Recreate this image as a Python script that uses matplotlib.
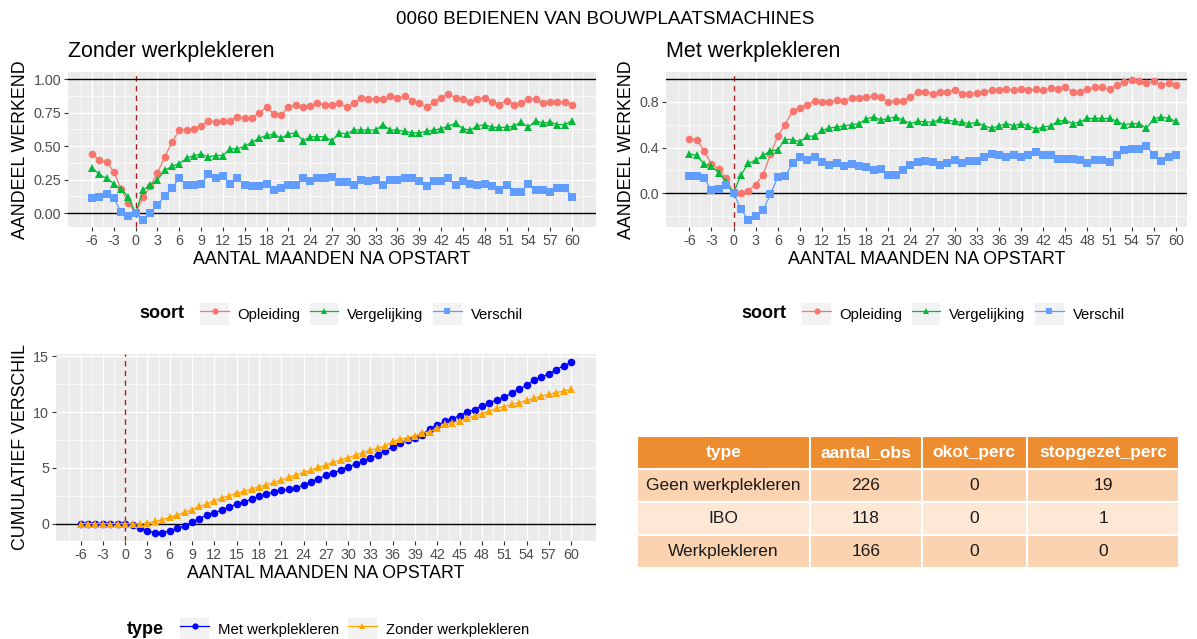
import numpy as np
import matplotlib
matplotlib.use('Agg')
import matplotlib.pyplot as plt
from matplotlib.patches import Rectangle
from matplotlib.lines import Line2D
from matplotlib.legend_handler import HandlerTuple

plt.rcParams['font.family'] = ['Liberation Sans', 'DejaVu Sans']
plt.rcParams['axes.unicode_minus'] = False

# maanden na opstart (-6 .. 60)
maanden = list(range(-6, 61))

# Zonder werkplekleren
opleiding_zonder = [0.44, 0.40, 0.38, 0.31, 0.18, 0.08, 0.00,
                    0.12, 0.20, 0.30, 0.42, 0.53, 0.62, 0.62, 0.63, 0.65, 0.69, 0.68,
                    0.69, 0.69, 0.72, 0.71, 0.71, 0.75, 0.79, 0.74, 0.73, 0.79, 0.81,
                    0.79, 0.80, 0.82, 0.81, 0.81, 0.82, 0.79, 0.82, 0.86, 0.85, 0.85,
                    0.85, 0.87, 0.86, 0.87, 0.84, 0.82, 0.79, 0.83, 0.86, 0.89, 0.86,
                    0.85, 0.83, 0.85, 0.86, 0.83, 0.81, 0.84, 0.81, 0.82, 0.85, 0.85,
                    0.82, 0.83, 0.83, 0.83, 0.81]
vergelijking_zonder = [0.34, 0.29, 0.26, 0.22, 0.18, 0.12, 0.00,
                       0.17, 0.21, 0.25, 0.32, 0.35, 0.37, 0.41, 0.43, 0.44, 0.42, 0.43,
                       0.43, 0.48, 0.48, 0.50, 0.53, 0.56, 0.58, 0.59, 0.56, 0.59, 0.60,
                       0.54, 0.57, 0.57, 0.57, 0.54, 0.60, 0.59, 0.62, 0.62, 0.62, 0.62,
                       0.66, 0.62, 0.62, 0.61, 0.60, 0.60, 0.61, 0.62, 0.63, 0.65, 0.67,
                       0.63, 0.62, 0.65, 0.66, 0.64, 0.64, 0.64, 0.65, 0.68, 0.64, 0.69,
                       0.67, 0.68, 0.66, 0.66, 0.69]
verschil_zonder = [0.11, 0.12, 0.14, 0.11, 0.01, -0.02, 0.00,
                   -0.05, 0.00, 0.06, 0.13, 0.19, 0.26, 0.21, 0.21, 0.22, 0.29, 0.26,
                   0.28, 0.22, 0.26, 0.21, 0.20, 0.20, 0.22, 0.17, 0.19, 0.21, 0.21,
                   0.26, 0.24, 0.26, 0.26, 0.27, 0.23, 0.23, 0.21, 0.25, 0.24, 0.25,
                   0.21, 0.25, 0.25, 0.26, 0.26, 0.24, 0.20, 0.24, 0.24, 0.26, 0.21,
                   0.24, 0.22, 0.21, 0.22, 0.20, 0.17, 0.21, 0.16, 0.16, 0.22, 0.17,
                   0.17, 0.16, 0.19, 0.19, 0.12]

# Met werkplekleren
opleiding_met = [0.475, 0.47, 0.37, 0.255, 0.21, 0.13, 0.00,
                 0.00, 0.02, 0.075, 0.16, 0.34, 0.50, 0.60, 0.72, 0.75, 0.77, 0.81,
                 0.80, 0.80, 0.82, 0.81, 0.83, 0.83, 0.84, 0.85, 0.84, 0.80, 0.81,
                 0.81, 0.84, 0.89, 0.89, 0.87, 0.89, 0.89, 0.90, 0.87, 0.87, 0.88,
                 0.89, 0.90, 0.90, 0.91, 0.90, 0.91, 0.90, 0.91, 0.90, 0.92, 0.915,
                 0.93, 0.89, 0.89, 0.91, 0.93, 0.93, 0.91, 0.95, 0.97, 0.99, 0.98,
                 0.965, 0.98, 0.945, 0.965, 0.95]
vergelijking_met = [0.345, 0.33, 0.255, 0.235, 0.18, 0.10, 0.00,
                    0.16, 0.26, 0.29, 0.33, 0.37, 0.38, 0.47, 0.47, 0.45, 0.50, 0.50,
                    0.55, 0.57, 0.58, 0.59, 0.60, 0.61, 0.65, 0.67, 0.64, 0.655, 0.67,
                    0.64, 0.61, 0.63, 0.625, 0.62, 0.65, 0.64, 0.63, 0.62, 0.61, 0.62,
                    0.59, 0.57, 0.59, 0.61, 0.59, 0.61, 0.59, 0.56, 0.58, 0.59, 0.63,
                    0.64, 0.61, 0.625, 0.655, 0.655, 0.655, 0.655, 0.63, 0.60, 0.61,
                    0.61, 0.57, 0.65, 0.67, 0.655, 0.63]
verschil_met = [0.15, 0.15, 0.13, 0.03, 0.04, 0.07, 0.00,
                -0.14, -0.235, -0.20, -0.15, -0.01, 0.14, 0.15, 0.26, 0.32, 0.29, 0.32,
                0.27, 0.25, 0.26, 0.24, 0.255, 0.24, 0.225, 0.20, 0.21, 0.155, 0.155,
                0.20, 0.25, 0.27, 0.28, 0.27, 0.25, 0.26, 0.29, 0.26, 0.28, 0.28,
                0.32, 0.345, 0.335, 0.315, 0.33, 0.315, 0.33, 0.36, 0.335, 0.335, 0.30,
                0.30, 0.30, 0.29, 0.26, 0.29, 0.29, 0.27, 0.335, 0.38, 0.39, 0.39,
                0.41, 0.335, 0.28, 0.315, 0.335]

# cumulatief verschil
cum_met = [0, 0, 0, 0, 0, 0, 0,
           -0.12, -0.36, -0.66, -0.80, -0.80, -0.66, -0.42, -0.21, 0.15, 0.45, 0.78,
           0.98, 1.19, 1.52, 1.73, 1.97, 2.18, 2.48, 2.62, 2.86, 2.98, 3.07, 3.22,
           3.46, 3.76, 4.03, 4.32, 4.56, 4.80, 5.10, 5.31, 5.61, 5.85, 6.20, 6.56,
           6.86, 7.19, 7.49, 7.69, 7.99, 8.53, 8.83, 9.19, 9.39, 9.69, 10.02, 10.23,
           10.59, 10.83, 11.12, 11.33, 11.72, 12.08, 12.41, 12.85, 13.15, 13.45,
           13.81, 14.17, 14.46]
cum_zonder = [0, 0, 0, 0, 0, 0, 0,
              -0.02, -0.03, 0.06, 0.20, 0.36, 0.57, 0.77, 1.01, 1.25, 1.55, 1.76,
              2.06, 2.30, 2.50, 2.74, 2.89, 3.10, 3.31, 3.49, 3.70, 3.91, 4.14, 4.38,
              4.59, 4.80, 5.04, 5.28, 5.49, 5.73, 5.93, 6.14, 6.38, 6.59, 6.77, 6.98,
              7.37, 7.57, 7.72, 7.87, 8.11, 8.26, 8.56, 8.92, 9.07, 9.21, 9.45, 9.66,
              9.87, 10.11, 10.35, 10.50, 10.71, 10.86, 11.06, 11.24, 11.45, 11.60,
              11.75, 11.90, 12.05]

# tabel
tabel_kolommen = ['type', 'aantal_obs', 'okot_perc', 'stopgezet_perc']
tabel_type = ['Geen werkplekleren', 'IBO', 'Werkplekleren']
tabel_aantal = [226, 118, 166]
tabel_okot = [0, 0, 0]
tabel_stop = [19, 1, 0]

soort_labels = ['Opleiding', 'Vergelijking', 'Verschil']
soort_kleuren = ['#F8766D', '#00BA38', '#619CFF']
soort_markers = ['o', '^', 's']
type_labels = ['Met werkplekleren', 'Zonder werkplekleren']
type_kleuren = ['#0000FF', '#FFA500']
type_markers = ['o', '^']
marker_maat = {'o': 5.5, '^': 6.0, 's': 5.8}

W, H = 1197, 639
fig = plt.figure(figsize=(W / 100, H / 100), dpi=100)


def style_axes(ax, xlim, ylim, yticks, ylabels, yminor, ylabel):
    ax.set_facecolor('#EBEBEB')
    ax.set_xlim(*xlim)
    ax.set_ylim(*ylim)
    ax.set_xticks(range(-6, 61, 3))
    ax.set_xticks(np.arange(-7.5, 62, 3), minor=True)
    ax.set_yticks(yticks)
    ax.set_yticklabels(ylabels)
    ax.set_yticks(yminor, minor=True)
    ax.grid(which='major', color='white', lw=1.0)
    ax.grid(which='minor', color='white', lw=0.5)
    ax.set_axisbelow(True)
    for s in ax.spines.values():
        s.set_visible(False)
    ax.tick_params(which='major', length=3, width=0.8, color='#333333',
                   labelsize=10.3, labelcolor='#4D4D4D', pad=2)
    ax.tick_params(which='minor', length=0)
    ax.set_xlabel('AANTAL MAANDEN NA OPSTART', fontsize=12.8, labelpad=2)
    ax.set_ylabel(ylabel, fontsize=12.8, labelpad=3)
    ax.axvline(0, color='#A52323', lw=1.0, ls=(0, (4, 3)), zorder=1.5)


def soort_panel(ax, reeksen, titel, xlim, ylim, yticks, ylabels, yminor):
    style_axes(ax, xlim, ylim, yticks, ylabels, yminor, 'AANDEEL WERKEND')
    ax.axhline(0, color='black', lw=1.0, zorder=1.6)
    ax.axhline(1, color='black', lw=1.0, zorder=1.6)
    for waarden, kleur, marker in zip(reeksen, soort_kleuren, soort_markers):
        ax.plot(maanden, waarden, color=kleur, lw=0.9, marker=marker,
                ms=marker_maat[marker], markeredgewidth=0, zorder=3)
    ax.set_title(titel, loc='left', fontsize=15.5, pad=10.5)


def legend_rij(titel, labels, kleuren, markers, x_titel, x_keys, y):
    fig.text(x_titel / W, 1 - y / H, titel, fontsize=13, weight='bold',
             ha='left', va='center')
    handles = []
    for kleur, marker in zip(kleuren, markers):
        key = Rectangle((0, 0), 1, 1, facecolor='#F2F2F2', edgecolor='none')
        lijn = Line2D([], [], color=kleur, lw=0.9, marker=marker, ms=4.5,
                      markeredgewidth=0)
        handles.append((key, lijn))
    fig.legend(handles, labels, handler_map={tuple: HandlerTuple(ndivide=1)},
               loc='center left', bbox_to_anchor=(x_keys / W, 1 - y / H),
               ncol=len(labels), frameon=False, fontsize=10.7, borderpad=0,
               handlelength=1.9, handleheight=1.8, handletextpad=0.6,
               columnspacing=0.65, numpoints=1)


# bovenste panelen
ax1 = fig.add_axes([68 / W, 1 - 227 / H, 528 / W, 155 / H])
soort_panel(ax1, [opleiding_zonder, vergelijking_zonder, verschil_zonder],
            'Zonder werkplekleren', (-9.3, 63.3), (-0.1025, 1.0525),
            [0, 0.25, 0.5, 0.75, 1.0], ['0.00', '0.25', '0.50', '0.75', '1.00'],
            [0.125, 0.375, 0.625, 0.875])

ax2 = fig.add_axes([665.7 / W, 1 - 227 / H, 521.3 / W, 155 / H])
soort_panel(ax2, [opleiding_met, vergelijking_met, verschil_met],
            'Met werkplekleren', (-9.2, 61.35), (-0.297, 1.062),
            [0, 0.4, 0.8], ['0.0', '0.4', '0.8'], [-0.2, 0.2, 0.6, 1.0])

# cumulatief verschil
ax3 = fig.add_axes([56 / W, 1 - 541 / H, 539.7 / W, 187 / H])
style_axes(ax3, (-9.3, 63.3), (-1.56, 15.22), [0, 5, 10, 15],
           ['0', '5', '10', '15'], [2.5, 7.5, 12.5], 'CUMULATIEF VERSCHIL')
ax3.axhline(0, color='black', lw=1.0, zorder=1.6)
for waarden, kleur, marker in zip([cum_met, cum_zonder], type_kleuren, type_markers):
    ax3.plot(maanden, waarden, color=kleur, lw=0.9, marker=marker,
             ms=marker_maat[marker], markeredgewidth=0, zorder=3)

# legendes
legend_rij('soort', soort_labels, soort_kleuren, soort_markers, 139, 193, 314)
legend_rij('soort', soort_labels, soort_kleuren, soort_markers, 741, 795, 314)
legend_rij('type', type_labels, type_kleuren, type_markers, 127, 173, 629)

# titel
fig.text(605 / W, 1 - 19 / H, '0060 BEDIENEN VAN BOUWPLAATSMACHINES',
         fontsize=13.5, ha='center', va='center')

# tabel
ax_t = fig.add_axes([636.7 / W, 1 - 567.7 / H, 542.6 / W, 131.7 / H])
ax_t.axis('off')
rijen = [[t, str(a), str(o), str(s)] for t, a, o, s in
         zip(tabel_type, tabel_aantal, tabel_okot, tabel_stop)]
tab = ax_t.table(cellText=rijen, colLabels=tabel_kolommen, cellLoc='center',
                 bbox=[0, 0, 1, 1], colWidths=[173.6, 111.4, 105, 152.6])
tab.auto_set_font_size(False)
rij_kleuren = ['#FCD3B0', '#FDE8D6', '#FCD3B0']
for (r, c), cel in tab.get_celld().items():
    cel.set_edgecolor('white')
    cel.set_linewidth(1.5)
    cel.get_text().set_fontsize(12.5)
    if r == 0:
        cel.set_facecolor('#EE8C30')
        cel.get_text().set_color('white')
        cel.get_text().set_weight('bold')
    else:
        cel.set_facecolor(rij_kleuren[r - 1])
        cel.get_text().set_color('#1A1A1A')

fig.savefig('out.png', dpi=100)
